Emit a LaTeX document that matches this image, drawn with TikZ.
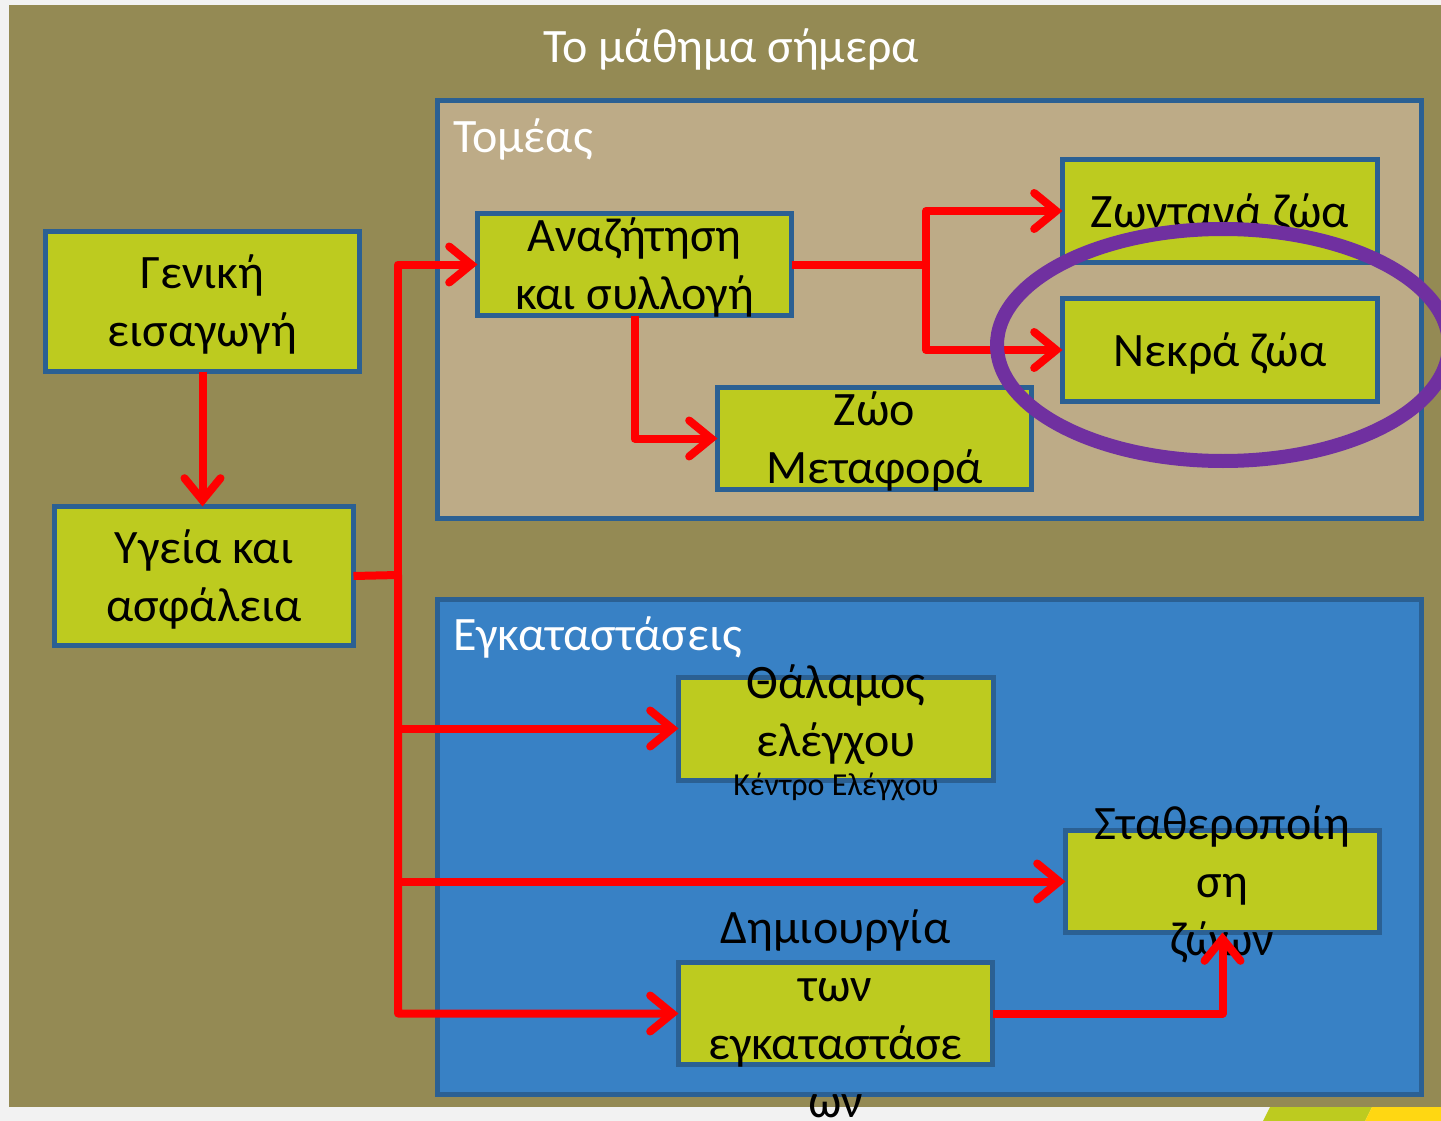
\documentclass[tikz,border=0pt]{standalone}
\usepackage{fontspec}
\setmainfont{Carlito}
\usepackage{xcolor}
\usetikzlibrary{shapes.geometric, arrows.meta}
\usetikzlibrary{positioning}
\definecolor{bggray}{HTML}{F2F2F2}
\definecolor{bgolive}{HTML}{948A54}
\definecolor{tanfill}{HTML}{BDAB87}
\definecolor{boxgreen}{HTML}{BDCB1F}
\definecolor{panelblue}{HTML}{3881C5}
\definecolor{edgeblue}{HTML}{2B6093}
\definecolor{ringpurple}{HTML}{7030A0}
\definecolor{stripeyellow}{HTML}{FFD712}
\tikzstyle{redarrow} = [line width=8pt,red,line join=round,-{Straight Barb[length=22pt,width=36pt,line cap=round]}]

\begin{document}
\begin{tikzpicture}[
        x=1pt, y=-1pt,
        every node/.style={font=\fontsize{48}{58}\selectfont, inner sep=0pt, outer sep=0pt},
        box/.style={draw=edgeblue, line width=5pt, fill=boxgreen, minimum width=315pt, minimum height=103pt},
        panel/.style={draw=edgeblue, line width=5pt, minimum width=984pt},
        boxtxt/.style={align=center, text=black, yshift=-3pt},
        head/.style={text=white, anchor=base west}
        ]
        \useasboundingbox (0,0) rectangle (1441,1121);
        \clip (0,0) rectangle (1441,1121);
        % slide background
        \fill[bggray] (0,0) rectangle (1441,1121);
        \fill[bgolive] (9,5) rectangle (1441,1107);
        \fill[boxgreen] (1263,1121) -- (1270,1107) -- (1372,1107) -- (1365,1121) -- cycle;
        \fill[stripeyellow] (1365,1121) -- (1372,1107) -- (1441,1107) -- (1441,1121) -- cycle;

        \node[text=white, anchor=base] (title) at (731,63) {Το μάθημα σήμερα};

        % panels
        \node[panel, fill=tanfill, minimum height=418pt] (tomeas) at (929.5,309.5) {};
        \node[head] (tomeashead) at (453,153) {Τομέας};
        \node[panel, fill=panelblue, minimum height=495pt] (egkatastaseis) at (929.5,847) {};
        \node[head] (egkhead) at (453,650) {Εγκαταστάσεις};

        % boxes
        \node[box, minimum width=314pt, minimum height=140pt, label={[boxtxt]center:Γενική\\εισαγωγή}] (geniki) at (202.5,301.5) {};
        \node[box, minimum width=299pt, minimum height=139pt, label={[boxtxt]center:Υγεία και\\ασφάλεια}] (ygeia) at (204,576) {};
        \node[box, minimum width=314pt, minimum height=102pt, label={[boxtxt]center:Αναζήτηση\\και συλλογή}] (anazitisi) at (634.5,264.5) {};
        \node[box, label={[boxtxt]center:Ζωντανά ζώα}] (zontana) at (1220,211) {};
        \node[box, label={[boxtxt]center:Νεκρά ζώα}] (nekra) at (1220,350) {};
        \node[box, minimum width=314pt, minimum height=102pt, label={[boxtxt]center:Ζώο\\Μεταφορά}] (zoo) at (874.5,438.5) {};
        \node[box, label={[boxtxt, yshift=17pt]center:Θάλαμος\\ελέγχου}] (thalamos) at (836,728.5) {};
        \node[font=\fontsize{32}{38}\selectfont] (kentro) at ([yshift=-7pt]thalamos.south) {Κέντρο Ελέγχου};
        \node[box, minimum width=314pt, minimum height=102pt, label={[boxtxt]center:Σταθεροποίη\\ση\\ζώων}] (statheropoiisi) at (1222.5,881.5) {};
        \node[box, minimum width=314pt, minimum height=102pt, label={[boxtxt, yshift=3pt]center:Δημιουργία\\των\\εγκαταστάσε\\ων}] (dimiourgia) at (835.5,1013.5) {};

        % connectors
        \coordinate (trunk) at (398,575);
        \coordinate (split) at (926,265);
        \draw[redarrow] (geniki.south) -- (geniki.south |- ygeia.north);
        \draw[redarrow] (ygeia.east) -- (trunk) |- (dimiourgia.west);
        \draw[redarrow] (trunk |- statheropoiisi.west) -- (statheropoiisi.west);
        \draw[redarrow] (trunk |- thalamos.west) |- (anazitisi.west);
        \draw[redarrow] (trunk |- thalamos.west) -- (thalamos.west);
        \draw[redarrow] (anazitisi.east) -- (anazitisi.east -| split) |- (zontana.west);
        \draw[redarrow] (anazitisi.east -| split) |- (nekra.west);
        \draw[redarrow] (anazitisi.south) |- (zoo.west);
        \draw[redarrow] (dimiourgia.east) -| (statheropoiisi.south);

        % highlight
        \node[draw=ringpurple, line width=14pt, ellipse, minimum width=452pt, minimum height=232pt] (ring) at (1223,345) {};
    \end{tikzpicture}
\end{document}
